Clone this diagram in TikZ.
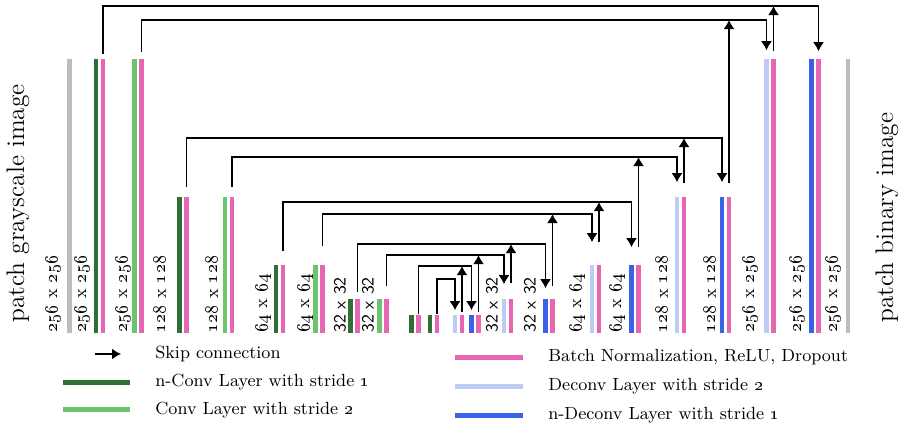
\documentclass[tikz,border=0pt]{standalone}
\usepackage{tikz}
\usetikzlibrary{arrows.meta,positioning}
\definecolor{darkgreen}{HTML}{2F6F33}
\definecolor{lightgreen}{HTML}{6CC46C}
\definecolor{bnpink}{HTML}{E666B3}
\definecolor{lightblue}{HTML}{BECBF5}
\definecolor{deconvblue}{HTML}{3A62E8}
\definecolor{imggray}{HTML}{BDBDBD}

\begin{document}
\begin{tikzpicture}[x=0.5pt, y=0.5pt, >={Latex[length=4.5pt,width=5.5pt]},
  layer/.style={rectangle, inner sep=0pt, minimum width=2.3pt, anchor=south, fill=#1},
  dim/.style={rotate=90, anchor=west, inner sep=0pt, font=\fontsize{8.9}{10}\selectfont},
  dimsf/.style={dim, font=\sffamily\fontsize{8.6}{10}\selectfont},
  title/.style={rotate=90, anchor=west, inner sep=0pt, font=\fontsize{12.7}{15}\selectfont},
  skip/.style={->, line width=0.75pt},
  legtext/.style={anchor=west, inner sep=0pt, font=\fontsize{8.8}{10}\selectfont},
  legline/.style={line width=2.5pt}
]
  \useasboundingbox (0,0) rectangle (901,430);

  % Input and output images
  \node[layer=imggray, minimum height=137pt] (inimg) at (69.5,97) {};
  \node[layer=imggray, minimum height=137pt] (outimg) at (848,97) {};
  \node[title] (intitle) at (18,107) {patch grayscale image};
  \node[title] (outtitle) at (887,107) {patch binary image};

  % Layer pairs (conv / deconv + batch norm)
  \foreach \n/\x/\c/\h in {e1/96/darkgreen/137pt, e2/134.5/lightgreen/137pt,
      e3/179.5/darkgreen/68pt, e4/225/lightgreen/68pt,
      e5/276/darkgreen/34pt, e6/315.5/lightgreen/34pt,
      e7/350.5/darkgreen/17pt, e8/379.5/lightgreen/17pt,
      e9/411.5/darkgreen/9pt, e10/430/darkgreen/9pt,
      d10/455/lightblue/9pt, d9/471.5/deconvblue/9pt,
      d8/504/lightblue/17pt, d7/545.5/deconvblue/17pt,
      d6/592/lightblue/34pt, d5/631.5/deconvblue/34pt,
      d4/677/lightblue/68pt, d3/722/deconvblue/68pt,
      d2/766.5/lightblue/137pt, d1/811.5/deconvblue/137pt} {
    \node[layer=\c, minimum height=\h] (\n-c) at (\x,97) {};
    \node[layer=bnpink, minimum height=\h] (\n-p) at (\x+7,97) {};
  }

  % Sizes
  \node[dim] (l1) at (53,97) {\oldstylenums{256} x \oldstylenums{256}};
  \node[dim] (l2) at (82,97) {\oldstylenums{256} x \oldstylenums{256}};
  \node[dim] (l3) at (123,97) {\oldstylenums{256} x \oldstylenums{256}};
  \node[dim] (l4) at (160,97) {\oldstylenums{128} x \oldstylenums{128}};
  \node[dim] (l5) at (212,97) {\oldstylenums{128} x \oldstylenums{128}};
  \node[dim] (l6) at (263,97) {\oldstylenums{64} x \oldstylenums{64}};
  \node[dim] (l7) at (305,97) {\oldstylenums{64} x \oldstylenums{64}};
  \node[dimsf] (l8) at (340,97) {32 x 32};
  \node[dimsf] (l9) at (368,97) {32 x 32};
  \node[dimsf] (l10) at (492,97) {32 x 32};
  \node[dimsf] (l11) at (530,97) {32 x 32};
  \node[dim] (l12) at (577,97) {\oldstylenums{64} x \oldstylenums{64}};
  \node[dim] (l13) at (617,97) {\oldstylenums{64} x \oldstylenums{64}};
  \node[dim] (l14) at (662,97) {\oldstylenums{128} x \oldstylenums{128}};
  \node[dim] (l15) at (710,97) {\oldstylenums{128} x \oldstylenums{128}};
  \node[dim] (l16) at (750,97) {\oldstylenums{256} x \oldstylenums{256}};
  \node[dim] (l17) at (797,97) {\oldstylenums{256} x \oldstylenums{256}};
  \node[dim] (l18) at (833,97) {\oldstylenums{256} x \oldstylenums{256}};

  % Skip connections
  \foreach \k/\eg/\t/\dg/\ly in {1/4/d1-p/7/424, 2/6/d2-c/8/410, 3/9/d3-c/14/292,
      4/9/d4-c/14/273, 5/13/d5-c/17/228, 6/18/d6-c/22/216, 7/6/d7-c/10/186,
      8/12/d8-c/14/175, 9/0/d9-c/4/164, 10/0/d10-c/4/151} {
    \coordinate (s\k) at (e\k-p.north |- 0,\ly);
    \draw[skip] ([yshift=\eg*0.5pt]e\k-p.north) -- (s\k) -| ([yshift=\dg*0.5pt]\t.north);
  }
  \foreach \k/\g in {2/7, 3/13, 4/13, 5/17, 6/22, 7/12, 8/15, 9/2, 10/2} {
    \pgfmathtruncatemacro{\m}{\k-1}
    \draw[skip] ([yshift=\g*0.5pt]d\k-p.north) -- (d\k-p.north |- s\m);
  }

  % Legend
  \node[legtext] (lgskip) at (155,76) {Skip connection};
  \node[legtext] (lgnconv) at (155,48) {n-Conv Layer with stride \oldstylenums{1}};
  \node[legtext] (lgconv) at (155,20) {Conv Layer with stride \oldstylenums{2}};
  \node[legtext] (lgbn) at (548,73) {Batch Normalization, ReLU, Dropout};
  \node[legtext] (lgdeconv) at (548,44) {Deconv Layer with stride \oldstylenums{2}};
  \node[legtext] (lgndeconv) at (548,15) {n-Deconv Layer with stride \oldstylenums{1}};
  \draw[skip] (95,76) -- (121,76);
  \draw[legline, darkgreen] (63,48) -- (130,48);
  \draw[legline, lightgreen] (63,21) -- (130,21);
  \draw[legline, bnpink] (455,73) -- (523,73);
  \draw[legline, lightblue] (455,44) -- (523,44);
  \draw[legline, deconvblue] (455,15) -- (523,15);
\end{tikzpicture}
\end{document}
